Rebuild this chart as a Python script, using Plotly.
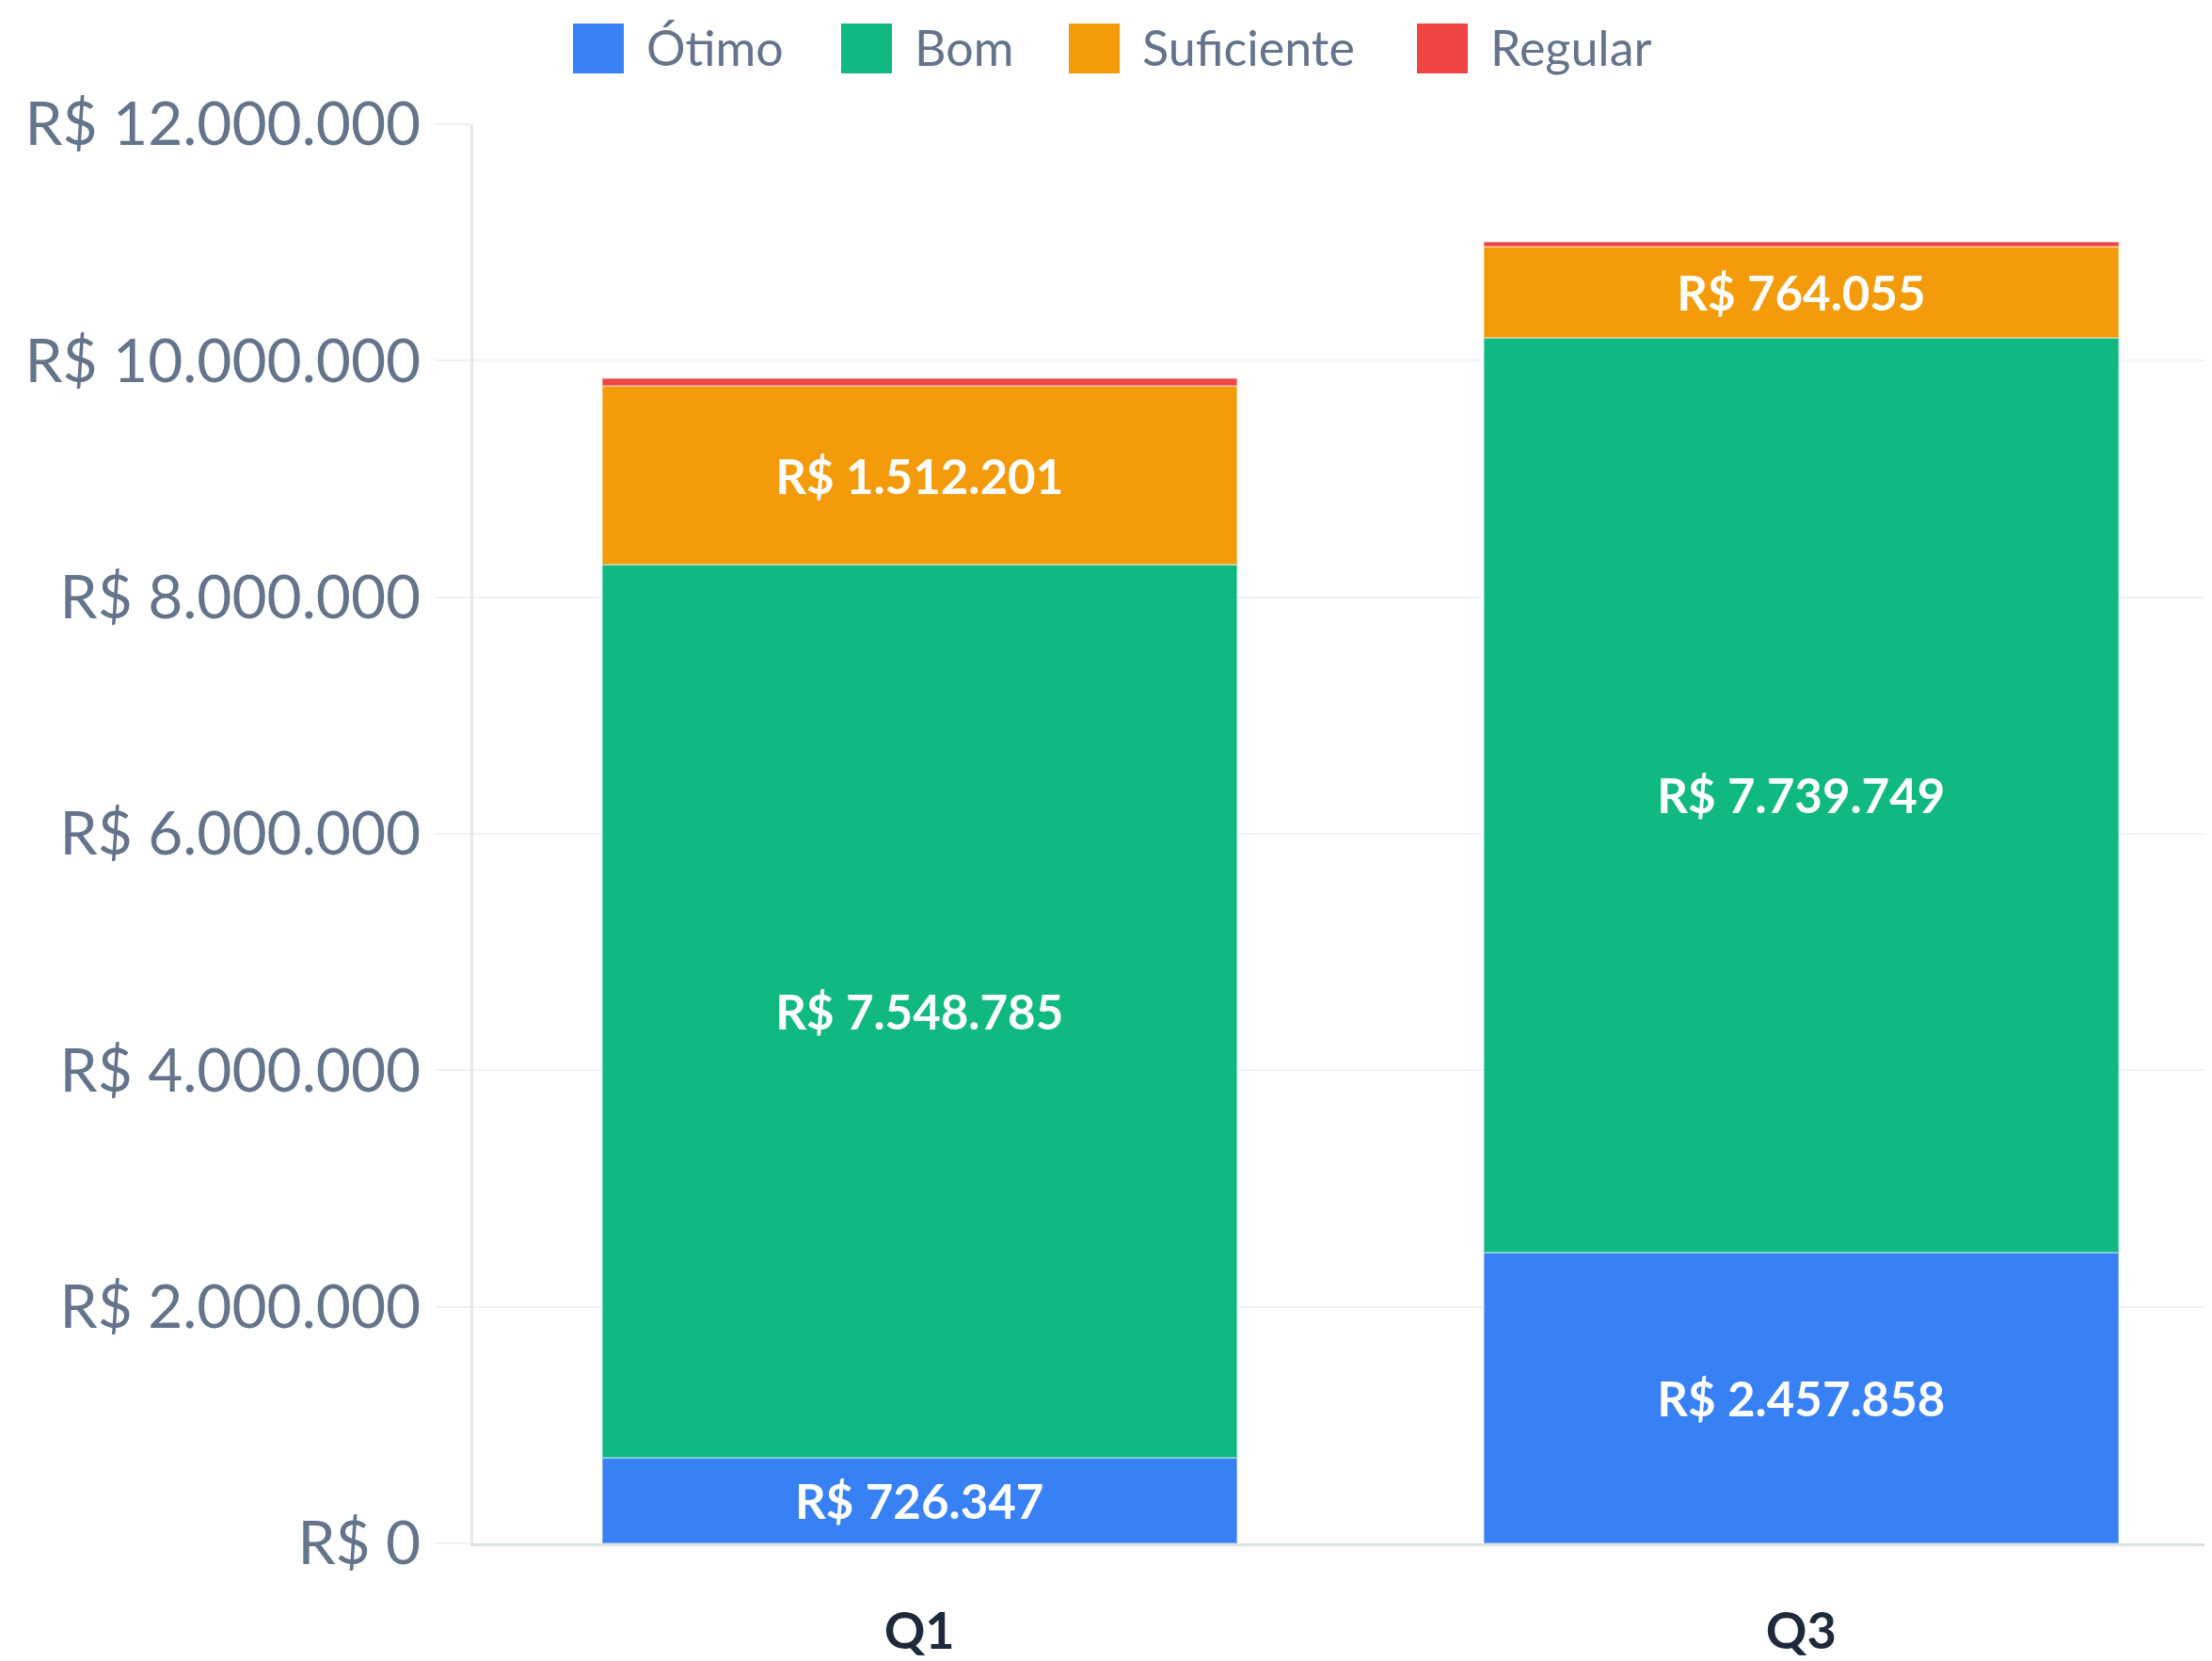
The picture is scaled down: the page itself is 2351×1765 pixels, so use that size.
import plotly.graph_objects as go

categories = ["Q1", "Q3"]
series_names = ["Ótimo", "Bom", "Suficiente", "Regular"]
otimo = [726347, 2457858]
bom = [7548785, 7739749]
suficiente = [1512201, 764055]
regular = [65000, 40000]
colors = ["#3781f4", "#10b981", "#f49b0b", "#ef4444"]
show_label = [True, True, True, False]

y_tickvals = [0, 2000000, 4000000, 6000000, 8000000, 10000000, 12000000]
y_ticktext = ["R$ 0", "R$ 2.000.000", "R$ 4.000.000", "R$ 6.000.000",
              "R$ 8.000.000", "R$ 10.000.000", "R$ 12.000.000"]


def brl(v):
    return "R$ " + f"{v:,.0f}".replace(",", ".")


series_values = [otimo, bom, suficiente, regular]
FONT = "Lato"

fig = go.Figure()
for name, vals, col, lab in zip(series_names, series_values, colors, show_label):
    fig.add_trace(go.Bar(
        name=name, x=categories, y=vals,
        marker=dict(color=col, line=dict(color="rgba(255,255,255,0.35)", width=2)),
        text=[brl(v) for v in vals] if lab else None,
        textposition="inside" if lab else "none",
        insidetextanchor="middle",
        textangle=0,
        textfont=dict(family=FONT, size=51, color="white", weight="bold"),
        width=0.72,
        showlegend=False,
    ))

# page offset of ~8px is compensated in the margins
W, H = 2343, 1757
L, T, B = 495, 124, 125
PW = W - L
PH = H - T - B

# custom legend (large swatches), positions in page pixels
leg_x = [609, 894, 1136, 1506]
off = 8
for name, col, lx in zip(series_names, colors, leg_x):
    x0 = lx - off
    fig.add_shape(type="rect", xref="paper", yref="paper",
                  x0=(x0 - L) / PW, x1=(x0 + 54 - L) / PW,
                  y0=(T + PH - (78 - off)) / PH, y1=(T + PH - (25 - off)) / PH,
                  fillcolor=col, line=dict(width=0))
    fig.add_annotation(xref="paper", yref="paper",
                       x=(x0 + 76 - L) / PW, y=(T + PH - (50 - off)) / PH,
                       text=name, showarrow=False, xanchor="left", yanchor="middle",
                       font=dict(family=FONT, size=52, color="#64748b"))

fig.update_layout(
    barmode="stack",
    width=W, height=H,
    margin=dict(l=L, r=0, t=T, b=B),
    plot_bgcolor="white", paper_bgcolor="white",
)
fig.update_xaxes(
    range=[-0.506, 1.466],
    showline=True, linecolor="#dde2e2", linewidth=3,
    showgrid=False,
    ticks="outside", ticklen=44, tickcolor="rgba(0,0,0,0)",
    tickfont=dict(family=FONT, size=54, color="#1e293b", weight="bold"),
)
fig.update_yaxes(
    range=[0, 12000000],
    tickvals=y_tickvals, ticktext=y_ticktext,
    showline=True, linecolor="#e6e9ea", linewidth=3,
    showgrid=True, gridcolor="#f0f4f4", gridwidth=2,
    ticks="outside", ticklen=38, tickcolor="#eef2f2", tickwidth=2,
    ticklabelstandoff=2,
    zeroline=False,
    tickfont=dict(family=FONT, size=64, color="#64748b"),
)

fig.write_html("out.html")
